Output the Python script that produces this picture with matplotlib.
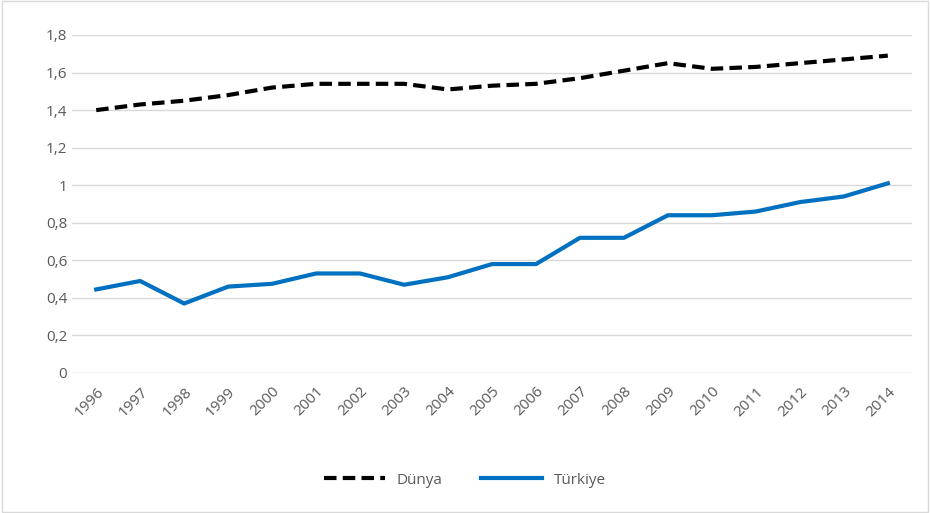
import matplotlib
matplotlib.use("Agg")
import matplotlib.pyplot as plt
from matplotlib.ticker import FuncFormatter

years = list(range(1996, 2015))
dunya = [1.40, 1.43, 1.45, 1.48, 1.52, 1.54, 1.54, 1.54, 1.51, 1.53,
         1.54, 1.57, 1.61, 1.65, 1.62, 1.63, 1.65, 1.67, 1.69]
turkiye = [0.445, 0.49, 0.37, 0.46, 0.475, 0.53, 0.53, 0.47, 0.51, 0.58,
           0.58, 0.72, 0.72, 0.84, 0.84, 0.86, 0.91, 0.94, 1.01]
yticks = [0, 0.2, 0.4, 0.6, 0.8, 1, 1.2, 1.4, 1.6, 1.8]

plt.rcParams['font.family'] = ['Open Sans', 'DejaVu Sans']
grey = '#595959'

fig = plt.figure(figsize=(9.3, 5.13), dpi=100)
ax = fig.add_axes([72 / 930, 1 - 373 / 513, 840 / 930, (373 - 35) / 513])

x = list(range(len(years)))
ax.plot(x, dunya, color='black', lw=3, ls=(0, (3, 1.5)), label='Dünya')
ax.plot(x, turkiye, color='#0070c0', lw=3, label='Türkiye')

ax.set_xlim(-0.55, len(years) - 0.45)
ax.set_ylim(0, 1.8)
ax.set_yticks(yticks)
ax.yaxis.set_major_formatter(FuncFormatter(lambda v, p: ('%g' % round(v, 1)).replace('.', ',')))
ax.set_xticks(x)
ax.set_xticklabels([str(y) for y in years], rotation=45, ha='right', rotation_mode='anchor')
ax.tick_params(axis='both', length=0, colors=grey, labelsize=11)
ax.tick_params(axis='x', pad=8)
ax.grid(axis='y', color='#d9d9d9', lw=1)
ax.set_axisbelow(True)
for s in ax.spines.values():
    s.set_visible(False)

leg = fig.legend(loc='center', bbox_to_anchor=(0.5, 1 - 480 / 513), ncol=2, frameon=False,
                 fontsize=11, handlelength=4, columnspacing=2.5)
for t in leg.get_texts():
    t.set_color(grey)

fig.patches.append(plt.Rectangle((0.002, 0.002), 0.996, 0.996, transform=fig.transFigure,
                                 fill=False, edgecolor='#d9d9d9', lw=1))
fig.savefig('out.png', dpi=100)
